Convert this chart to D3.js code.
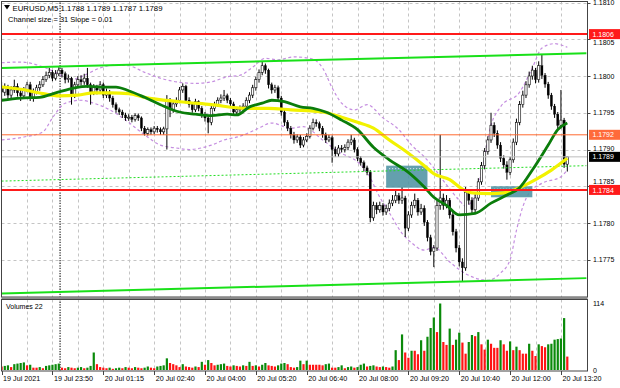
<!DOCTYPE html>
<html><head><meta charset="utf-8">
<script src="https://cdn.jsdelivr.net/npm/d3@7"></script>
<style>body{margin:0;background:#fff;}svg{display:block;}text{font-family:"Liberation Sans",Arial,sans-serif;}</style>
</head><body>
<svg id="c" width="620" height="388"></svg>
<script>
// ---------------- DATA ----------------
const symbolTitle = "EURUSD,M5 1.1788 1.1789 1.1787 1.1789";
const channelTitle = "Channel size = 31 Slope = 0.01";
const volumeTitle = "Volumes 22";

const opens = [1.17985,1.17978,1.17984,1.17974,1.17981,1.17986,1.17977,1.17973,1.17981,1.17988,
1.17971,1.17978,1.17984,1.17988,1.17995,1.18001,1.18005,1.17997,1.18003,1.18008,
1.18003,1.17995,1.17997,1.17974,1.17988,1.17995,1.17992,1.17997,1.17988,1.17978,
1.17984,1.17981,1.17988,1.17974,1.17978,1.17970,1.17961,1.17954,1.17951,1.17947,
1.17943,1.17944,1.17941,1.17946,1.17943,1.17929,1.17922,1.17927,1.17924,1.17929,
1.17927,1.17924,1.17928,1.17967,1.17954,1.17962,1.17967,1.17981,1.17986,1.17967,
1.17961,1.17954,1.17965,1.17956,1.17947,1.17943,1.17937,1.17956,1.17961,1.17967,
1.17970,1.17973,1.17967,1.17962,1.17951,1.17954,1.17956,1.17959,1.17967,1.17974,
1.17984,1.17995,1.18005,1.18014,1.18008,1.17988,1.17981,1.17984,1.17970,1.17951,
1.17937,1.17929,1.17920,1.17913,1.17917,1.17906,1.17913,1.17918,1.17929,1.17937,
1.17935,1.17929,1.17920,1.17913,1.17916,1.17900,1.17894,1.17902,1.17900,1.17903,
1.17910,1.17913,1.17900,1.17888,1.17882,1.17875,1.17869,1.17807,1.17824,1.17818,
1.17824,1.17815,1.17820,1.17827,1.17831,1.17837,1.17831,1.17834,1.17793,1.17811,
1.17824,1.17831,1.17815,1.17820,1.17801,1.17780,1.17761,1.17766,1.17824,1.17834,
1.17824,1.17831,1.17811,1.17788,1.17766,1.17747,1.17739,1.17842,1.17831,1.17818,
1.17834,1.17856,1.17878,1.17897,1.17913,1.17933,1.17922,1.17906,1.17888,1.17879,
1.17869,1.17886,1.17910,1.17937,1.17961,1.17974,1.17988,1.18000,1.18008,1.17995,
1.18014,1.18001,1.17989,1.17974,1.17959,1.17948,1.17933,1.17940,1.17880];

const highs = [1.17992,1.17990,1.17988,1.17986,1.17995,1.17990,1.17982,1.17985,1.17992,1.17992,
1.17983,1.17988,1.17993,1.18000,1.18006,1.18011,1.18008,1.18008,1.18012,1.18011,
1.18006,1.18002,1.17999,1.17992,1.18000,1.18001,1.18003,1.18011,1.17991,1.17989,
1.17988,1.17993,1.17991,1.17983,1.17981,1.17973,1.17964,1.17957,1.17954,1.17950,
1.17948,1.17947,1.17949,1.17949,1.17945,1.17932,1.17930,1.17930,1.17932,1.17932,
1.17930,1.17931,1.17974,1.17970,1.17966,1.17971,1.17985,1.17990,1.17988,1.17971,
1.17964,1.17969,1.17967,1.17959,1.17951,1.17946,1.17960,1.17965,1.17971,1.17975,
1.17981,1.17976,1.17970,1.17965,1.17958,1.17960,1.17963,1.17971,1.17978,1.17988,
1.17999,1.18009,1.18019,1.18017,1.18010,1.17991,1.17988,1.17987,1.17973,1.17954,
1.17940,1.17932,1.17924,1.17921,1.17920,1.17917,1.17922,1.17933,1.17942,1.17941,
1.17938,1.17932,1.17923,1.17920,1.17919,1.17904,1.17906,1.17906,1.17907,1.17914,
1.17920,1.17916,1.17903,1.17891,1.17885,1.17878,1.17872,1.17829,1.17828,1.17829,
1.17827,1.17825,1.17832,1.17838,1.17845,1.17841,1.17849,1.17837,1.17816,1.17829,
1.17840,1.17834,1.17826,1.17824,1.17804,1.17784,1.17770,1.17830,1.17920,1.17840,
1.17838,1.17834,1.17815,1.17792,1.17770,1.17752,1.17849,1.17846,1.17835,1.17839,
1.17861,1.17883,1.17902,1.17918,1.17950,1.17937,1.17926,1.17910,1.17892,1.17884,
1.17890,1.17915,1.17942,1.17966,1.17980,1.17993,1.18006,1.18014,1.18011,1.18020,
1.18029,1.18004,1.17992,1.17977,1.17962,1.17951,1.17981,1.17943,1.17890];

const lows = [1.17967,1.17973,1.17968,1.17970,1.17977,1.17972,1.17966,1.17970,1.17978,1.17966,
1.17965,1.17975,1.17980,1.17985,1.17992,1.17997,1.17993,1.17994,1.18000,1.17998,
1.17990,1.17991,1.17961,1.17970,1.17985,1.17987,1.17988,1.17984,1.17961,1.17974,
1.17975,1.17977,1.17970,1.17970,1.17965,1.17957,1.17950,1.17947,1.17943,1.17939,
1.17939,1.17937,1.17938,1.17939,1.17925,1.17919,1.17919,1.17920,1.17921,1.17923,
1.17920,1.17920,1.17900,1.17944,1.17950,1.17958,1.17963,1.17977,1.17963,1.17957,
1.17950,1.17951,1.17952,1.17943,1.17938,1.17922,1.17933,1.17952,1.17958,1.17963,
1.17966,1.17963,1.17957,1.17946,1.17947,1.17950,1.17952,1.17955,1.17963,1.17970,
1.17980,1.17991,1.18001,1.18003,1.17983,1.17976,1.17977,1.17965,1.17946,1.17932,
1.17925,1.17915,1.17908,1.17909,1.17902,1.17903,1.17910,1.17915,1.17926,1.17931,
1.17925,1.17916,1.17909,1.17910,1.17882,1.17890,1.17890,1.17896,1.17896,1.17899,
1.17906,1.17896,1.17884,1.17878,1.17870,1.17865,1.17801,1.17803,1.17812,1.17814,
1.17810,1.17811,1.17816,1.17823,1.17827,1.17826,1.17826,1.17781,1.17789,1.17807,
1.17820,1.17810,1.17811,1.17796,1.17775,1.17756,1.17740,1.17762,1.17818,1.17818,
1.17820,1.17806,1.17783,1.17760,1.17741,1.17720,1.17735,1.17825,1.17812,1.17814,
1.17830,1.17852,1.17873,1.17893,1.17909,1.17917,1.17901,1.17883,1.17874,1.17859,
1.17865,1.17882,1.17906,1.17933,1.17957,1.17970,1.17984,1.17995,1.17990,1.17991,
1.17996,1.17984,1.17969,1.17954,1.17943,1.17928,1.17929,1.17875,1.17870];

const closes = [1.17978,1.17984,1.17974,1.17981,1.17986,1.17977,1.17973,1.17981,1.17988,1.17971,
1.17978,1.17984,1.17988,1.17995,1.18001,1.18005,1.17997,1.18003,1.18008,1.18003,
1.17995,1.17997,1.17974,1.17988,1.17995,1.17992,1.17997,1.17988,1.17978,1.17984,
1.17981,1.17988,1.17974,1.17978,1.17970,1.17961,1.17954,1.17951,1.17947,1.17943,
1.17944,1.17941,1.17946,1.17943,1.17929,1.17922,1.17927,1.17924,1.17929,1.17927,
1.17924,1.17928,1.17967,1.17954,1.17962,1.17967,1.17981,1.17986,1.17967,1.17961,
1.17954,1.17965,1.17956,1.17947,1.17943,1.17937,1.17956,1.17961,1.17967,1.17970,
1.17973,1.17967,1.17962,1.17951,1.17954,1.17956,1.17959,1.17967,1.17974,1.17984,
1.17995,1.18005,1.18014,1.18008,1.17988,1.17981,1.17984,1.17970,1.17951,1.17937,
1.17929,1.17920,1.17913,1.17917,1.17906,1.17913,1.17918,1.17929,1.17937,1.17935,
1.17929,1.17920,1.17913,1.17916,1.17900,1.17894,1.17902,1.17900,1.17903,1.17910,
1.17913,1.17900,1.17888,1.17882,1.17875,1.17869,1.17807,1.17824,1.17818,1.17824,
1.17815,1.17820,1.17827,1.17831,1.17837,1.17831,1.17834,1.17793,1.17811,1.17824,
1.17831,1.17815,1.17820,1.17801,1.17780,1.17761,1.17766,1.17824,1.17834,1.17824,
1.17831,1.17811,1.17788,1.17766,1.17747,1.17739,1.17842,1.17831,1.17818,1.17834,
1.17856,1.17878,1.17897,1.17913,1.17933,1.17922,1.17906,1.17888,1.17879,1.17869,
1.17886,1.17910,1.17937,1.17961,1.17974,1.17988,1.18000,1.18008,1.17995,1.18014,
1.18001,1.17989,1.17974,1.17959,1.17948,1.17933,1.17940,1.17880,1.17890];

const volumes = [6,7,8,5,10,11,12,13,8,9,
4,4,5,3,7,8,9,10,11,4,
3,5,4,3,4,5,3,4,7,30,
10,5,4,3,4,2,3,4,3,5,
4,3,5,4,3,4,6,4,3,6,
7,8,20,12,10,8,5,10,6,5,
4,6,5,14,9,17,12,8,9,10,
11,7,6,8,7,6,8,7,14,7,
8,6,9,12,8,7,6,8,11,12,
10,5,4,5,16,10,16,9,9,9,
9,8,10,11,4,4,5,8,3,5,
6,4,5,9,11,6,7,8,6,5,
6,5,4,6,34,17,61,30,21,33,
33,27,51,33,57,72,90,65,114,48,
43,71,43,52,64,47,28,48,60,58,
65,44,35,52,45,38,38,51,44,33,
49,34,40,34,28,28,45,33,24,44,
41,39,44,45,52,53,54,89,23];

// time labels: [bar index, text]
const timeLabels = [[0,"19 Jul 2021"],[16,"19 Jul 23:50"],[32,"20 Jul 01:15"],[48,"20 Jul 02:40"],
[64,"20 Jul 04:00"],[80,"20 Jul 05:20"],[96,"20 Jul 06:40"],[112,"20 Jul 08:00"],
[128,"20 Jul 09:20"],[144,"20 Jul 10:40"],[160,"20 Jul 12:00"],[176,"20 Jul 13:20"]];
const priceTicks = [1.1810,1.1805,1.1800,1.1795,1.1790,1.1785,1.1780,1.1775];
const volumeTicks = [0,114];

// indicators: [bar index, price]
const greenMA = [[0,1.17967],[6,1.17970],[12,1.17971],[17,1.17977],[23,1.17984],[27,1.17986],[31,1.17985],[36,1.17985],[40,1.17980],[45,1.17971],[50,1.17961],[56,1.17951],[61,1.17948],[66,1.17946],[71,1.17948],[74,1.17947],[78,1.17958],[82,1.17963],[85,1.17967],[89,1.17965],[94,1.17958],[98,1.17956],[102,1.17951],[107,1.17940],[112,1.17927],[117,1.17903],[122,1.17886],[128,1.17869],[133,1.17849],[136,1.17835],[140,1.17824],[144,1.17811],[149,1.17813],[154,1.17827],[159,1.17838],[163,1.17848],[167,1.17872],[172,1.17906],[175,1.17927],[178,1.17936]];
const yellowMA = [[0,1.17985],[6,1.17982],[13,1.17976],[18,1.17973],[24,1.17974],[29,1.17977],[34,1.17977],[40,1.17976],[45,1.17971],[56,1.17965],[66,1.17961],[77,1.17956],[84,1.17956],[91,1.17954],[101,1.17951],[107,1.17944],[112,1.17937],[117,1.17929],[122,1.17913],[128,1.17895],[133,1.17878],[136,1.17867],[141,1.17859],[145,1.17846],[148,1.17841],[154,1.17840],[158,1.17841],[163,1.17848],[168,1.17859],[173,1.17872],[178,1.17888]];
const bandUpper = [[0,1.18018],[6,1.18019],[12,1.18014],[17,1.18005],[22,1.17995],[26,1.18001],[31,1.18011],[36,1.18015],[40,1.18014],[45,1.18005],[50,1.17997],[55,1.17992],[61,1.17990],[66,1.17992],[71,1.17999],[75,1.18001],[79,1.18012],[83,1.18024],[87,1.18022],[92,1.18026],[97,1.18024],[101,1.18011],[104,1.17984],[107,1.17963],[111,1.17954],[115,1.17961],[120,1.17943],[125,1.17927],[129,1.17906],[133,1.17890],[136,1.17875],[140,1.17852],[144,1.17831],[146,1.17823],[149,1.17838],[151,1.17868],[154,1.17933],[157,1.17958],[163,1.17978],[167,1.18011],[170,1.18038],[174,1.18044],[178,1.18039]];
const bandLower = [[0,1.17913],[7,1.17917],[13,1.17924],[16,1.17943],[20,1.17963],[25,1.17967],[29,1.17963],[34,1.17954],[39,1.17940],[45,1.17920],[50,1.17906],[55,1.17902],[59,1.17900],[66,1.17906],[70,1.17913],[75,1.17918],[80,1.17927],[85,1.17936],[91,1.17929],[95,1.17931],[101,1.17913],[106,1.17897],[112,1.17883],[115,1.17869],[119,1.17835],[122,1.17814],[126,1.17786],[129,1.17773],[133,1.17763],[136,1.17767],[141,1.17747],[146,1.17731],[153,1.17722],[157,1.17732],[160,1.17750],[162,1.17790],[164,1.17822],[166,1.17841],[170,1.17854],[176,1.17863],[178,1.17872]];

const channelUpper = [[0,1.18011],[184,1.18031]];
const channelMid   = [[0,1.17857],[184,1.17878]];
const channelLower = [[0,1.17704],[184,1.17725]];

// zones: [first bar, last bar, top price, bottom price]
const zones = [[121,134,1.17878,1.17848],[154,167,1.17850,1.17835]];

// horizontal levels
const levels = [
  {price:1.18057, label:"1.1806", kind:"major"},
  {price:1.17920, label:"1.1792", kind:"minor"},
  {price:1.17845, label:"1.1784", kind:"major"}
];
const lastPrice = {price:1.17890, label:"1.1789"};
const daySeparatorBar = 18.4;

// ---------------- LAYOUT ----------------
const L=1.5, R=587.5, T=1.5, MB=297, VT=299.5, VB=371;
const svg = d3.select("#c");
const x = d3.scaleLinear().domain([0,178]).range([1.6,567.3]);
const y = d3.scaleLinear().domain([1.1770,1.1810]).range([296.5,2.5]);
const yv = d3.scaleLinear().domain([0,114]).range([370,303.5]);

svg.append("rect").attr("width",620).attr("height",388).attr("fill","#fff");
const defs = svg.append("defs");
defs.append("clipPath").attr("id","mainClip").append("rect")
  .attr("x",L).attr("y",T).attr("width",R-L).attr("height",MB-T);
defs.append("clipPath").attr("id","volClip").append("rect")
  .attr("x",L).attr("y",VT).attr("width",R-L).attr("height",VB-VT);

const main = svg.append("g").attr("clip-path","url(#mainClip)");
const vol = svg.append("g").attr("clip-path","url(#volClip)");

// grid
const gridBars = d3.range(8,180,8);
[[main,T,MB],[vol,VT,VB]].forEach(([g,a,b])=>{
  g.selectAll(null).data(gridBars).join("line")
    .attr("x1",d=>Math.round(x(d))+0.5).attr("x2",d=>Math.round(x(d))+0.5)
    .attr("y1",a).attr("y2",b)
    .attr("stroke","#c4c4c4").attr("stroke-dasharray","3,3").attr("stroke-width",1);
});
main.selectAll(null).data(priceTicks).join("line")
  .attr("x1",L).attr("x2",R).attr("y1",d=>Math.round(y(d))+0.5).attr("y2",d=>Math.round(y(d))+0.5)
  .attr("stroke","#c4c4c4").attr("stroke-dasharray","3,3");

// day separator
[main,vol].forEach(g=>{
  g.append("line").attr("x1",x(daySeparatorBar)).attr("x2",x(daySeparatorBar))
   .attr("y1",0).attr("y2",VB).attr("stroke","#333").attr("stroke-width",1.3).attr("stroke-dasharray","1.3,1.3");
});

const line = d3.line().x(d=>x(d[0])).y(d=>y(d[1])).curve(d3.curveMonotoneX);
const sline = d3.line().x(d=>x(d[0])).y(d=>y(d[1]));

// bands
[bandUpper,bandLower].forEach(b=>{
  main.append("path").attr("d",line(b)).attr("fill","none")
    .attr("stroke","#c58ee0").attr("stroke-width",1.2).attr("stroke-dasharray","3,2.5");
});

// candles
const idx = d3.range(closes.length);
main.selectAll(null).data(idx).join("line")
  .attr("x1",i=>x(i)).attr("x2",i=>x(i))
  .attr("y1",i=>y(highs[i])).attr("y2",i=>y(lows[i]))
  .attr("stroke","#000").attr("stroke-width",1);
main.selectAll(null).data(idx).join("rect")
  .attr("x",i=>x(i)-1.1).attr("width",2.2)
  .attr("y",i=>y(Math.max(opens[i],closes[i])))
  .attr("height",i=>Math.max(1,Math.abs(y(opens[i])-y(closes[i]))))
  .attr("fill",i=>closes[i]>=opens[i]?"#fff":"#000")
  .attr("stroke","#000").attr("stroke-width",i=>closes[i]>=opens[i]?0.6:0.3);

// zones
zones.forEach(z=>{
  main.append("rect").attr("x",x(z[0])).attr("width",x(z[1])-x(z[0]))
    .attr("y",y(z[2])).attr("height",y(z[3])-y(z[2]))
    .attr("fill","#4e93a3").attr("fill-opacity",0.88);
  main.append("line").attr("x1",x(z[0])+3).attr("x2",x(z[1])-3)
    .attr("y1",y(z[2])+3).attr("y2",y(z[2])+3)
    .attr("stroke","#e8f4f6").attr("stroke-dasharray","1,2").attr("stroke-width",1);
});

// channel
[channelUpper,channelLower].forEach(c=>{
  main.append("path").attr("d",sline(c)).attr("fill","none").attr("stroke","#19e019").attr("stroke-width",2);
});
main.append("path").attr("d",sline(channelMid)).attr("fill","none")
  .attr("stroke","#22dd22").attr("stroke-width",1).attr("stroke-dasharray","2,2");

// moving averages
main.append("path").attr("d",line(yellowMA)).attr("fill","none").attr("stroke","#f2f200").attr("stroke-width",3.2);
main.append("path").attr("d",line(greenMA)).attr("fill","none").attr("stroke","#0b7d0b").attr("stroke-width",2.8);

// levels
main.append("line").attr("x1",L).attr("x2",R).attr("y1",y(lastPrice.price)).attr("y2",y(lastPrice.price))
  .attr("stroke","#bdbdbd").attr("stroke-width",1);
levels.forEach(l=>{
  main.append("line").attr("x1",L).attr("x2",R).attr("y1",y(l.price)).attr("y2",y(l.price))
    .attr("stroke",l.kind==="major"?"#ff1a1a":"#ff6a30").attr("stroke-width",l.kind==="major"?2:1);
});

// volumes
vol.selectAll(null).data(idx).join("rect")
  .attr("x",i=>x(i)-1.1).attr("width",2.2)
  .attr("y",i=>yv(volumes[i])).attr("height",i=>yv(0)-yv(volumes[i]))
  .attr("fill",i=>(i>0 && volumes[i]>volumes[i-1])?"#0a8a0a":"#ff1414");

// frames
svg.append("rect").attr("x",L).attr("y",T).attr("width",R-L).attr("height",MB-T)
  .attr("fill","none").attr("stroke","#444").attr("stroke-width",1);
svg.append("rect").attr("x",L).attr("y",MB).attr("width",R-L).attr("height",2.5).attr("fill","#8a8a8a");
svg.append("rect").attr("x",L).attr("y",VT).attr("width",R-L).attr("height",VB-VT)
  .attr("fill","none").attr("stroke","#444").attr("stroke-width",1);

// price axis
const ax = svg.append("g");
const boxYs = levels.map(l=>y(l.price)).concat([y(lastPrice.price)]);
function tickLabelY(p){
  let yy = y(p);
  boxYs.forEach(b=>{
    const d = yy-b;
    if (Math.abs(d) < 8.6) yy = b + (d>=0 ? 8.6 : -8.6);
  });
  return yy;
}
ax.selectAll(null).data(priceTicks).join("line")
  .attr("x1",R).attr("x2",R+3).attr("y1",d=>Math.round(y(d))+0.5).attr("y2",d=>Math.round(y(d))+0.5).attr("stroke","#444");
ax.selectAll(null).data(priceTicks).join("text")
  .attr("x",593).attr("y",d=>tickLabelY(d)+2.6).attr("font-size",7).attr("fill","#000")
  .text(d=>d.toFixed(4));
// price boxes
function box(p,label,bg,fg){
  const yy=y(p);
  ax.append("rect").attr("x",589).attr("y",yy-5).attr("width",31).attr("height",10).attr("fill",bg);
  ax.append("text").attr("x",592.5).attr("y",yy+2.6).attr("font-size",7).attr("fill",fg).text(label);
}
levels.forEach(l=>box(l.price,l.label,l.kind==="major"?"#ff1a1a":"#ff6a3a","#fff"));
box(lastPrice.price,lastPrice.label,"#000","#fff");

// volume axis
ax.selectAll(null).data(volumeTicks).join("text")
  .attr("x",593).attr("y",d=>yv(d)+2.5).attr("font-size",7).attr("fill","#000").text(d=>d);

// time axis
ax.selectAll(null).data(timeLabels).join("line")
  .attr("x1",d=>Math.round(x(d[0]))+0.5).attr("x2",d=>Math.round(x(d[0]))+0.5)
  .attr("y1",VB).attr("y2",VB+4).attr("stroke","#444");
ax.selectAll(null).data(timeLabels).join("text")
  .attr("x",d=>x(d[0])+1.5).attr("y",381).attr("font-size",7.2).attr("fill","#000").text(d=>d[1]);

// titles
svg.append("path").attr("d","M4,5 L10,5 L7,9.5 Z").attr("fill","#000");
svg.append("text").attr("x",12.5).attr("y",11).attr("font-size",7.8).attr("fill","#000").text(symbolTitle);
svg.append("text").attr("x",8).attr("y",22).attr("font-size",7.5).attr("fill","#000").text(channelTitle);
svg.append("text").attr("x",6).attr("y",309).attr("font-size",7).attr("fill","#000").text(volumeTitle);
</script>
</body></html>
